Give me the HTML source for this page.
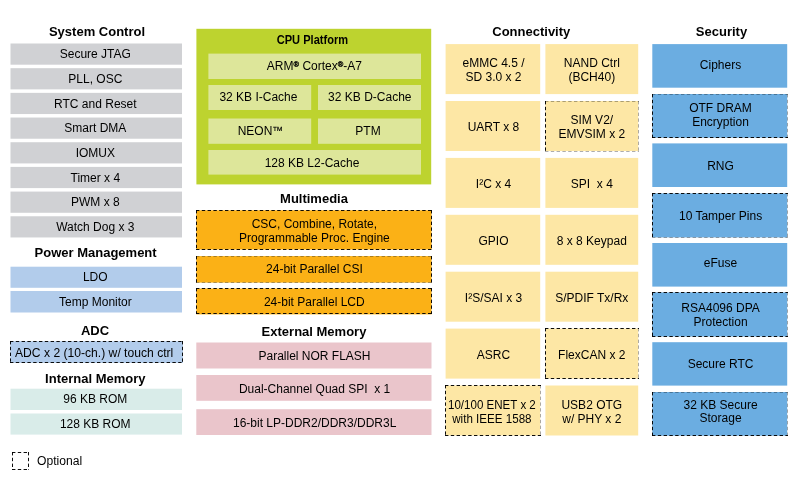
<!DOCTYPE html>
<html><head><meta charset="utf-8"><title>Block diagram</title>
<style>
html,body{margin:0;padding:0;background:#fff;}
body{width:800px;height:480px;overflow:hidden;}
svg{display:block;}
text{font-family:"Liberation Sans",sans-serif;fill:#000;white-space:pre;}
</style></head><body>
<svg width="800" height="480" viewBox="0 0 800 480" xml:space="preserve">
<rect x="0" y="0" width="800" height="480" fill="#fff"/>
<rect x="10.50" y="43.50" width="171.50" height="21.20" fill="#d0d1d4"/>
<rect x="10.50" y="68.18" width="171.50" height="21.20" fill="#d0d1d4"/>
<rect x="10.50" y="92.86" width="171.50" height="21.20" fill="#d0d1d4"/>
<rect x="10.50" y="117.54" width="171.50" height="21.20" fill="#d0d1d4"/>
<rect x="10.50" y="142.22" width="171.50" height="21.20" fill="#d0d1d4"/>
<rect x="10.50" y="166.90" width="171.50" height="21.20" fill="#d0d1d4"/>
<rect x="10.50" y="191.58" width="171.50" height="21.20" fill="#d0d1d4"/>
<rect x="10.50" y="216.26" width="171.50" height="21.20" fill="#d0d1d4"/>
<rect x="10.50" y="266.70" width="171.50" height="21.10" fill="#b2cceb"/>
<rect x="10.50" y="291.00" width="171.50" height="21.50" fill="#b2cceb"/>
<rect x="10.30" y="341.20" width="172.70" height="21.70" fill="#b2cceb"/>
<line x1="10.0" y1="341.5" x2="183.0" y2="341.5" stroke="#000" stroke-opacity="0.95" stroke-width="1" stroke-dasharray="3.4 2.4"/>
<line x1="182.5" y1="341.0" x2="182.5" y2="363.0" stroke="#000" stroke-opacity="0.95" stroke-width="1" stroke-dasharray="3.4 2.4"/>
<line x1="10.0" y1="362.5" x2="183.0" y2="362.5" stroke="#000" stroke-opacity="0.95" stroke-width="1" stroke-dasharray="3.4 2.4"/>
<line x1="10.5" y1="341.0" x2="10.5" y2="363.0" stroke="#000" stroke-opacity="0.95" stroke-width="1" stroke-dasharray="3.4 2.4"/>
<rect x="10.50" y="388.70" width="171.50" height="21.30" fill="#d9ece9"/>
<rect x="10.50" y="413.50" width="171.50" height="21.10" fill="#d9ece9"/>
<rect x="12.00" y="452.60" width="17.40" height="17.40" fill="#fff"/>
<line x1="12.0" y1="452.5" x2="29.0" y2="452.5" stroke="#000" stroke-opacity="0.95" stroke-width="1" stroke-dasharray="3.4 2.4"/>
<line x1="28.5" y1="452.0" x2="28.5" y2="470.0" stroke="#000" stroke-opacity="0.95" stroke-width="1" stroke-dasharray="3.4 2.4"/>
<line x1="12.0" y1="469.5" x2="29.0" y2="469.5" stroke="#000" stroke-opacity="0.95" stroke-width="1" stroke-dasharray="3.4 2.4"/>
<line x1="12.5" y1="452.0" x2="12.5" y2="470.0" stroke="#000" stroke-opacity="0.95" stroke-width="1" stroke-dasharray="3.4 2.4"/>
<rect x="196.40" y="28.80" width="234.80" height="155.60" fill="#bdd32f"/>
<rect x="208.40" y="53.60" width="212.60" height="25.40" fill="#dde69a"/>
<rect x="208.40" y="85.00" width="102.80" height="25.00" fill="#dde69a"/>
<rect x="318.00" y="85.00" width="103.00" height="25.00" fill="#dde69a"/>
<rect x="208.40" y="118.50" width="102.80" height="25.30" fill="#dde69a"/>
<rect x="318.00" y="118.50" width="103.00" height="25.30" fill="#dde69a"/>
<rect x="208.40" y="150.00" width="212.60" height="24.60" fill="#dde69a"/>
<rect x="196.30" y="210.30" width="235.20" height="39.20" fill="#fbb116"/>
<line x1="196.0" y1="210.5" x2="432.0" y2="210.5" stroke="#000" stroke-opacity="0.95" stroke-width="1" stroke-dasharray="3.4 2.4"/>
<line x1="431.5" y1="210.0" x2="431.5" y2="250.0" stroke="#000" stroke-opacity="0.95" stroke-width="1" stroke-dasharray="3.4 2.4"/>
<line x1="196.0" y1="249.5" x2="432.0" y2="249.5" stroke="#000" stroke-opacity="0.95" stroke-width="1" stroke-dasharray="3.4 2.4"/>
<line x1="196.5" y1="210.0" x2="196.5" y2="250.0" stroke="#000" stroke-opacity="0.95" stroke-width="1" stroke-dasharray="3.4 2.4"/>
<rect x="196.30" y="256.10" width="235.20" height="26.50" fill="#fbb116"/>
<line x1="196.0" y1="256.5" x2="432.0" y2="256.5" stroke="#000" stroke-opacity="0.32" stroke-width="1" stroke-dasharray="3.4 2.4"/>
<line x1="431.5" y1="256.0" x2="431.5" y2="283.0" stroke="#000" stroke-opacity="0.95" stroke-width="1" stroke-dasharray="3.4 2.4"/>
<line x1="196.0" y1="282.5" x2="432.0" y2="282.5" stroke="#000" stroke-opacity="0.32" stroke-width="1" stroke-dasharray="3.4 2.4"/>
<line x1="196.5" y1="256.0" x2="196.5" y2="283.0" stroke="#000" stroke-opacity="0.95" stroke-width="1" stroke-dasharray="3.4 2.4"/>
<rect x="196.30" y="288.50" width="235.20" height="25.90" fill="#fbb116"/>
<line x1="196.0" y1="288.5" x2="432.0" y2="288.5" stroke="#000" stroke-opacity="0.95" stroke-width="1" stroke-dasharray="3.4 2.4"/>
<line x1="431.5" y1="288.0" x2="431.5" y2="314.0" stroke="#000" stroke-opacity="0.95" stroke-width="1" stroke-dasharray="3.4 2.4"/>
<line x1="196.0" y1="313.5" x2="432.0" y2="313.5" stroke="#000" stroke-opacity="0.95" stroke-width="1" stroke-dasharray="3.4 2.4"/>
<line x1="196.5" y1="288.0" x2="196.5" y2="314.0" stroke="#000" stroke-opacity="0.95" stroke-width="1" stroke-dasharray="3.4 2.4"/>
<rect x="196.30" y="342.50" width="235.20" height="26.00" fill="#eac5cb"/>
<rect x="196.30" y="375.00" width="235.20" height="25.80" fill="#eac5cb"/>
<rect x="196.30" y="409.20" width="235.20" height="25.80" fill="#eac5cb"/>
<rect x="445.60" y="44.10" width="94.60" height="50.00" fill="#fde7a5"/>
<rect x="545.40" y="44.10" width="92.80" height="50.00" fill="#fde7a5"/>
<rect x="445.60" y="101.00" width="94.60" height="50.00" fill="#fde7a5"/>
<rect x="545.40" y="101.00" width="92.80" height="50.00" fill="#fde7a5"/>
<line x1="545.0" y1="101.5" x2="639.0" y2="101.5" stroke="#000" stroke-opacity="0.32" stroke-width="1" stroke-dasharray="3.4 2.4"/>
<line x1="638.5" y1="101.0" x2="638.5" y2="152.0" stroke="#000" stroke-opacity="0.32" stroke-width="1" stroke-dasharray="3.4 2.4"/>
<line x1="545.0" y1="151.5" x2="639.0" y2="151.5" stroke="#000" stroke-opacity="0.32" stroke-width="1" stroke-dasharray="3.4 2.4"/>
<line x1="545.5" y1="101.0" x2="545.5" y2="152.0" stroke="#000" stroke-opacity="0.95" stroke-width="1" stroke-dasharray="3.4 2.4"/>
<rect x="445.60" y="157.90" width="94.60" height="50.00" fill="#fde7a5"/>
<rect x="545.40" y="157.90" width="92.80" height="50.00" fill="#fde7a5"/>
<rect x="445.60" y="214.80" width="94.60" height="50.00" fill="#fde7a5"/>
<rect x="545.40" y="214.80" width="92.80" height="50.00" fill="#fde7a5"/>
<rect x="445.60" y="271.70" width="94.60" height="50.00" fill="#fde7a5"/>
<rect x="545.40" y="271.70" width="92.80" height="50.00" fill="#fde7a5"/>
<rect x="445.60" y="328.60" width="94.60" height="50.00" fill="#fde7a5"/>
<rect x="545.40" y="328.60" width="92.80" height="50.00" fill="#fde7a5"/>
<line x1="545.0" y1="328.5" x2="639.0" y2="328.5" stroke="#000" stroke-opacity="0.95" stroke-width="1" stroke-dasharray="3.4 2.4"/>
<line x1="638.5" y1="328.0" x2="638.5" y2="379.0" stroke="#000" stroke-opacity="0.32" stroke-width="1" stroke-dasharray="3.4 2.4"/>
<line x1="545.0" y1="378.5" x2="639.0" y2="378.5" stroke="#000" stroke-opacity="0.95" stroke-width="1" stroke-dasharray="3.4 2.4"/>
<line x1="545.5" y1="328.0" x2="545.5" y2="379.0" stroke="#000" stroke-opacity="0.95" stroke-width="1" stroke-dasharray="3.4 2.4"/>
<rect x="445.60" y="385.50" width="94.60" height="50.00" fill="#fde7a5"/>
<line x1="445.0" y1="385.5" x2="541.0" y2="385.5" stroke="#000" stroke-opacity="0.95" stroke-width="1" stroke-dasharray="3.4 2.4"/>
<line x1="540.5" y1="385.0" x2="540.5" y2="436.0" stroke="#000" stroke-opacity="0.32" stroke-width="1" stroke-dasharray="3.4 2.4"/>
<line x1="445.0" y1="435.5" x2="541.0" y2="435.5" stroke="#000" stroke-opacity="0.95" stroke-width="1" stroke-dasharray="3.4 2.4"/>
<line x1="445.5" y1="385.0" x2="445.5" y2="436.0" stroke="#000" stroke-opacity="0.95" stroke-width="1" stroke-dasharray="3.4 2.4"/>
<rect x="545.40" y="385.50" width="92.80" height="50.00" fill="#fde7a5"/>
<rect x="652.30" y="44.10" width="134.90" height="43.60" fill="#6bade1"/>
<rect x="652.30" y="94.00" width="134.90" height="43.70" fill="#6bade1"/>
<line x1="652.0" y1="94.5" x2="788.0" y2="94.5" stroke="#000" stroke-opacity="0.32" stroke-width="1" stroke-dasharray="3.4 2.4"/>
<line x1="787.5" y1="94.0" x2="787.5" y2="138.0" stroke="#000" stroke-opacity="0.32" stroke-width="1" stroke-dasharray="3.4 2.4"/>
<line x1="652.0" y1="137.5" x2="788.0" y2="137.5" stroke="#000" stroke-opacity="0.95" stroke-width="1" stroke-dasharray="3.4 2.4"/>
<line x1="652.5" y1="94.0" x2="652.5" y2="138.0" stroke="#000" stroke-opacity="0.95" stroke-width="1" stroke-dasharray="3.4 2.4"/>
<rect x="652.30" y="143.40" width="134.90" height="43.60" fill="#6bade1"/>
<rect x="652.30" y="193.40" width="134.90" height="44.00" fill="#6bade1"/>
<line x1="652.0" y1="193.5" x2="788.0" y2="193.5" stroke="#000" stroke-opacity="0.95" stroke-width="1" stroke-dasharray="3.4 2.4"/>
<line x1="787.5" y1="193.0" x2="787.5" y2="238.0" stroke="#000" stroke-opacity="0.32" stroke-width="1" stroke-dasharray="3.4 2.4"/>
<line x1="652.0" y1="237.5" x2="788.0" y2="237.5" stroke="#000" stroke-opacity="0.32" stroke-width="1" stroke-dasharray="3.4 2.4"/>
<line x1="652.5" y1="193.0" x2="652.5" y2="238.0" stroke="#000" stroke-opacity="0.95" stroke-width="1" stroke-dasharray="3.4 2.4"/>
<rect x="652.30" y="243.00" width="134.90" height="43.60" fill="#6bade1"/>
<rect x="652.30" y="292.40" width="134.90" height="44.10" fill="#6bade1"/>
<line x1="652.0" y1="292.5" x2="788.0" y2="292.5" stroke="#000" stroke-opacity="0.95" stroke-width="1" stroke-dasharray="3.4 2.4"/>
<line x1="787.5" y1="292.0" x2="787.5" y2="337.0" stroke="#000" stroke-opacity="0.32" stroke-width="1" stroke-dasharray="3.4 2.4"/>
<line x1="652.0" y1="336.5" x2="788.0" y2="336.5" stroke="#000" stroke-opacity="0.95" stroke-width="1" stroke-dasharray="3.4 2.4"/>
<line x1="652.5" y1="292.0" x2="652.5" y2="337.0" stroke="#000" stroke-opacity="0.95" stroke-width="1" stroke-dasharray="3.4 2.4"/>
<rect x="652.30" y="342.20" width="134.90" height="43.40" fill="#6bade1"/>
<rect x="652.30" y="392.00" width="134.90" height="43.70" fill="#6bade1"/>
<line x1="652.0" y1="392.5" x2="788.0" y2="392.5" stroke="#000" stroke-opacity="0.32" stroke-width="1" stroke-dasharray="3.4 2.4"/>
<line x1="787.5" y1="392.0" x2="787.5" y2="436.0" stroke="#000" stroke-opacity="0.32" stroke-width="1" stroke-dasharray="3.4 2.4"/>
<line x1="652.0" y1="435.5" x2="788.0" y2="435.5" stroke="#000" stroke-opacity="0.95" stroke-width="1" stroke-dasharray="3.4 2.4"/>
<line x1="652.5" y1="392.0" x2="652.5" y2="436.0" stroke="#000" stroke-opacity="0.95" stroke-width="1" stroke-dasharray="3.4 2.4"/>
<g style="will-change:opacity;opacity:0.999">
<text x="97.00" y="35.60" font-size="13" text-anchor="middle" font-weight="bold">System Control</text>
<text x="95.35" y="58.00" font-size="12" text-anchor="middle">Secure JTAG</text>
<text x="95.35" y="82.90" font-size="12" text-anchor="middle">PLL, OSC</text>
<text x="95.35" y="107.70" font-size="12" text-anchor="middle">RTC and Reset</text>
<text x="95.35" y="132.40" font-size="12" text-anchor="middle">Smart DMA</text>
<text x="95.35" y="157.00" font-size="12" text-anchor="middle">IOMUX</text>
<text x="95.35" y="181.90" font-size="12" text-anchor="middle">Timer x 4</text>
<text x="95.35" y="206.00" font-size="12" text-anchor="middle">PWM x 8</text>
<text x="95.35" y="231.25" font-size="12" text-anchor="middle">Watch Dog x 3</text>
<text x="95.60" y="257.20" font-size="13" text-anchor="middle" font-weight="bold">Power Management</text>
<text x="95.25" y="281.00" font-size="12" text-anchor="middle">LDO</text>
<text x="95.45" y="305.75" font-size="12" text-anchor="middle">Temp Monitor</text>
<text x="95.00" y="334.70" font-size="13" text-anchor="middle" font-weight="bold">ADC</text>
<text x="94.15" y="357.00" font-size="12" text-anchor="middle" textLength="158.3" lengthAdjust="spacingAndGlyphs">ADC x 2 (10-ch.) w/ touch ctrl</text>
<text x="95.30" y="382.70" font-size="13" text-anchor="middle" font-weight="bold">Internal Memory</text>
<text x="95.25" y="403.00" font-size="12" text-anchor="middle">96 KB ROM</text>
<text x="95.25" y="427.80" font-size="12" text-anchor="middle">128 KB ROM</text>
<text x="37.00" y="465.00" font-size="12" text-anchor="start" textLength="45.2" lengthAdjust="spacingAndGlyphs">Optional</text>
<text x="312.40" y="44.25" font-size="13" text-anchor="middle" font-weight="bold" textLength="71.3" lengthAdjust="spacingAndGlyphs">CPU Platform</text>
<text x="314.40" y="70.10" font-size="12" text-anchor="middle">ARM<tspan font-size="7.5" font-weight="bold" stroke="#000" stroke-width="0.3" dy="-3.4">®</tspan><tspan dy="3.4"> Cortex</tspan><tspan font-size="7.5" font-weight="bold" stroke="#000" stroke-width="0.3" dy="-3.4">®</tspan><tspan dy="3.4">-A7</tspan></text>
<text x="258.40" y="100.82" font-size="12" text-anchor="middle">32 KB I-Cache</text>
<text x="369.80" y="100.82" font-size="12" text-anchor="middle">32 KB D-Cache</text>
<text x="260.40" y="135.47" font-size="12" text-anchor="middle">NEON<tspan font-size="10.8" dy="-1.6" stroke="#000" stroke-width="0.1">™</tspan></text>
<text x="368.00" y="135.47" font-size="12" text-anchor="middle">PTM</text>
<text x="312.00" y="166.62" font-size="12" text-anchor="middle">128 KB L2-Cache</text>
<text x="314.00" y="202.50" font-size="13" text-anchor="middle" font-weight="bold">Multimedia</text>
<text x="314.40" y="227.75" font-size="12" text-anchor="middle">CSC, Combine, Rotate,</text>
<text x="314.40" y="241.90" font-size="12" text-anchor="middle">Programmable Proc. Engine</text>
<text x="314.40" y="273.40" font-size="12" text-anchor="middle">24-bit Parallel CSI</text>
<text x="314.30" y="305.60" font-size="12" text-anchor="middle">24-bit Parallel LCD</text>
<text x="314.00" y="335.60" font-size="13" text-anchor="middle" font-weight="bold">External Memory</text>
<text x="314.50" y="360.32" font-size="12" text-anchor="middle">Parallel NOR FLASH</text>
<text x="314.60" y="392.50" font-size="12" text-anchor="middle">Dual-Channel Quad SPI  x 1</text>
<text x="314.70" y="426.50" font-size="12" text-anchor="middle">16-bit LP-DDR2/DDR3/DDR3L</text>
<text x="531.30" y="35.60" font-size="13" text-anchor="middle" font-weight="bold">Connectivity</text>
<text x="493.50" y="67.32" font-size="12" text-anchor="middle">eMMC 4.5 /</text>
<text x="493.50" y="81.32" font-size="12" text-anchor="middle">SD 3.0 x 2</text>
<text x="591.80" y="67.32" font-size="12" text-anchor="middle">NAND Ctrl</text>
<text x="591.80" y="81.32" font-size="12" text-anchor="middle">(BCH40)</text>
<text x="493.50" y="131.22" font-size="12" text-anchor="middle">UART x 8</text>
<text x="591.80" y="124.22" font-size="12" text-anchor="middle">SIM V2/</text>
<text x="591.80" y="138.22" font-size="12" text-anchor="middle">EMVSIM x 2</text>
<text x="493.50" y="188.12" font-size="12" text-anchor="middle">I²C x 4</text>
<text x="591.80" y="188.12" font-size="12" text-anchor="middle">SPI  x 4</text>
<text x="493.50" y="245.02" font-size="12" text-anchor="middle">GPIO</text>
<text x="591.80" y="245.02" font-size="12" text-anchor="middle">8 x 8 Keypad</text>
<text x="493.50" y="301.92" font-size="12" text-anchor="middle">I²S/SAI x 3</text>
<text x="591.80" y="301.92" font-size="12" text-anchor="middle">S/PDIF Tx/Rx</text>
<text x="493.50" y="358.82" font-size="12" text-anchor="middle">ASRC</text>
<text x="591.80" y="358.82" font-size="12" text-anchor="middle">FlexCAN x 2</text>
<text x="491.90" y="408.72" font-size="12" text-anchor="middle" textLength="87.8" lengthAdjust="spacingAndGlyphs">10/100 ENET x 2</text>
<text x="491.90" y="422.72" font-size="12" text-anchor="middle" textLength="79.3" lengthAdjust="spacingAndGlyphs">with IEEE 1588</text>
<text x="591.80" y="408.72" font-size="12" text-anchor="middle">USB2 OTG</text>
<text x="591.80" y="422.72" font-size="12" text-anchor="middle">w/ PHY x 2</text>
<text x="721.50" y="35.60" font-size="13" text-anchor="middle" font-weight="bold">Security</text>
<text x="720.55" y="68.50" font-size="12" text-anchor="middle">Ciphers</text>
<text x="720.55" y="111.60" font-size="12" text-anchor="middle">OTF DRAM</text>
<text x="720.55" y="126.00" font-size="12" text-anchor="middle">Encryption</text>
<text x="720.55" y="169.60" font-size="12" text-anchor="middle">RNG</text>
<text x="720.55" y="220.00" font-size="12" text-anchor="middle">10 Tamper Pins</text>
<text x="720.55" y="266.60" font-size="12" text-anchor="middle">eFuse</text>
<text x="720.55" y="311.60" font-size="12" text-anchor="middle">RSA4096 DPA</text>
<text x="720.55" y="325.60" font-size="12" text-anchor="middle">Protection</text>
<text x="720.55" y="367.70" font-size="12" text-anchor="middle">Secure RTC</text>
<text x="720.55" y="408.60" font-size="12" text-anchor="middle">32 KB Secure</text>
<text x="720.55" y="422.40" font-size="12" text-anchor="middle">Storage</text>
</g>
</svg>
</body></html>
